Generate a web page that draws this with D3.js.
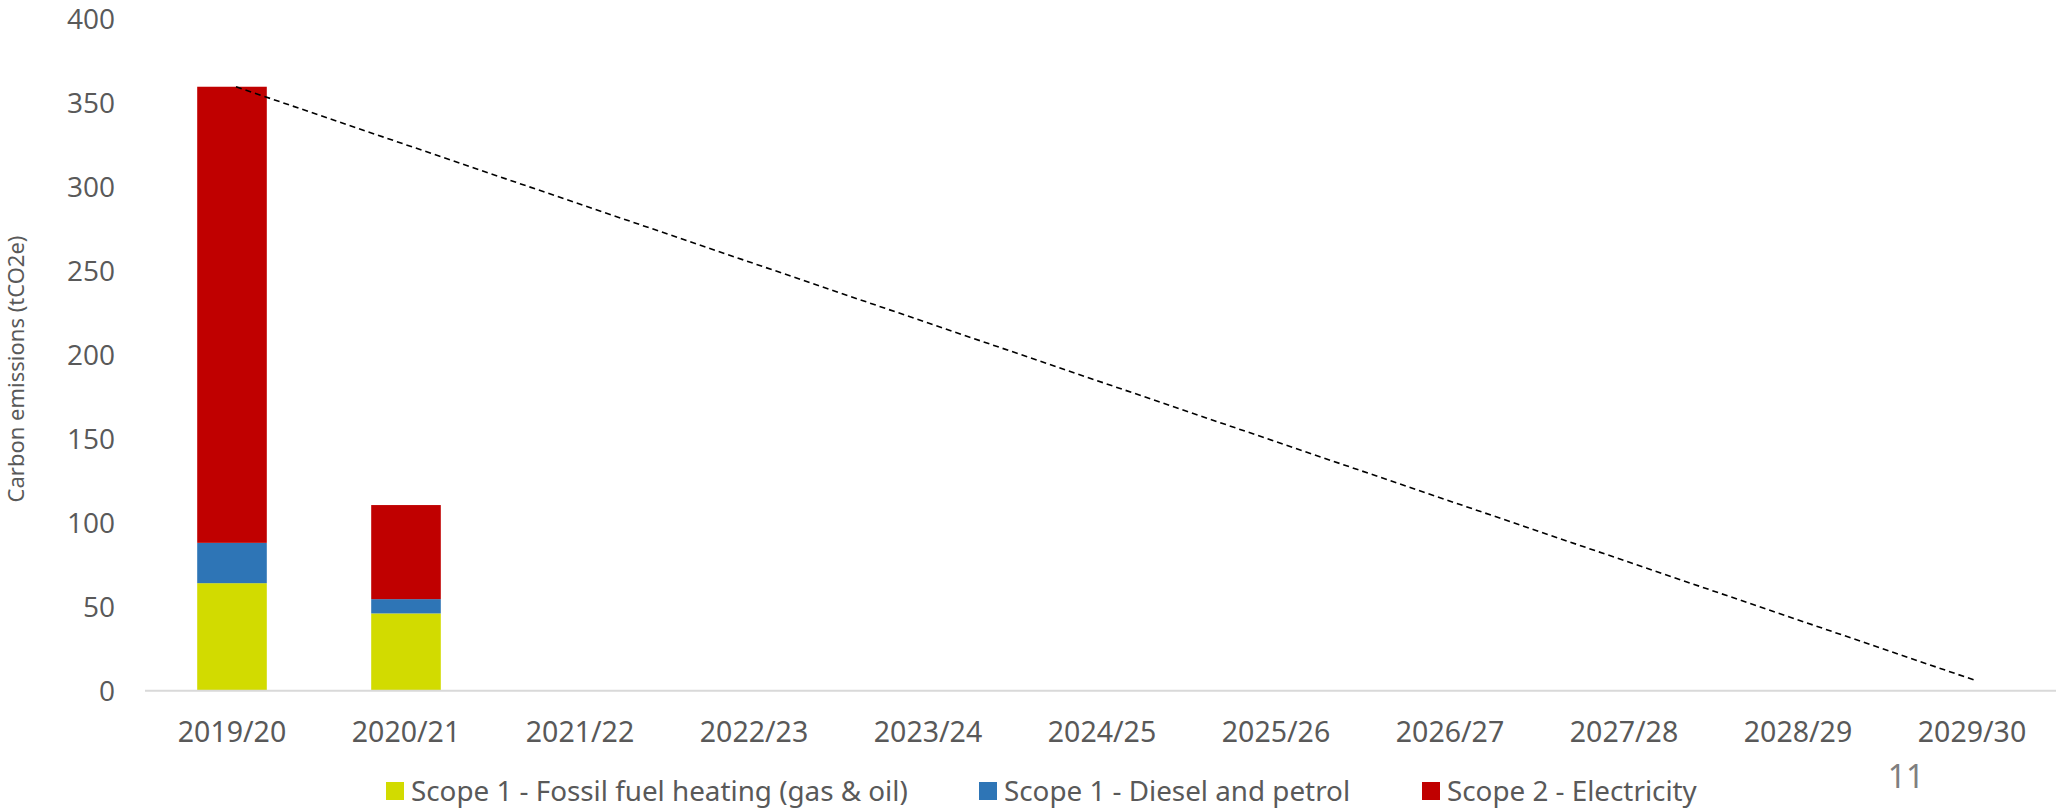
<!DOCTYPE html>
<html>
<head>
<meta charset="utf-8">
<script src="https://cdn.jsdelivr.net/npm/d3@7"></script>
<style>
  html, body { margin: 0; padding: 0; background: #ffffff; }
  svg { display: block; }
</style>
</head>
<body>
<svg id="chart" width="2056" height="808"></svg>
<script>
// ---- Data ----
const categories = ["2019/20","2020/21","2021/22","2022/23","2023/24","2024/25","2025/26","2026/27","2027/28","2028/29","2029/30"];
const seriesNames = ["Scope 1 - Fossil fuel heating (gas & oil)", "Scope 1 - Diesel and petrol", "Scope 2 - Electricity"];
const fossilHeating = [64, 46, null, null, null, null, null, null, null, null, null];
const dieselPetrol  = [24, 8.5, null, null, null, null, null, null, null, null, null];
const electricity   = [271.5, 56, null, null, null, null, null, null, null, null, null];
const targetCategories = ["2019/20", "2029/30"];
const targetValues = [359.5, 6];
const yTicks = [0, 50, 100, 150, 200, 250, 300, 350, 400];
const pageNumber = "11";

const colors = ["#D2DB00", "#2E75B6", "#C00000"];

// ---- Layout ----
const svg = d3.select("#chart");
const x = d3.scaleBand().domain(categories).range([145, 2059]).paddingInner(0.6).paddingOuter(0.3);
const y = d3.scaleLinear().domain([0, 400]).range([690.7, 18.7]);

// stacked data
const table = categories.map((c, i) => ({
  cat: c,
  s0: fossilHeating[i] || 0,
  s1: dieselPetrol[i] || 0,
  s2: electricity[i] || 0
}));
const stack = d3.stack().keys(["s0", "s1", "s2"]);
const layers = stack(table);

svg.append("g").selectAll("g")
  .data(layers)
  .join("g")
  .attr("fill", (d, i) => colors[i])
  .selectAll("rect")
  .data(d => d.filter(p => p[1] - p[0] > 0))
  .join("rect")
  .attr("x", d => x(d.data.cat))
  .attr("width", x.bandwidth())
  .attr("y", d => y(d[1]))
  .attr("height", d => y(d[0]) - y(d[1]));

// x axis line
const xAxis = d3.axisBottom(x).tickSize(0).tickPadding(0);
const gx = svg.append("g").attr("transform", `translate(0,${y(0)})`).call(xAxis);
gx.select(".domain").attr("stroke", "#D9D9D9").attr("stroke-width", 2).attr("d", `M145,0H2056`);
gx.selectAll(".tick text")
  .attr("y", 41.5)
  .attr("dy", "0.35em")
  .attr("fill", "#595959")
  .style("font-family", "'Noto Sans', sans-serif")
  .style("font-size", "28.5px");

// y axis labels
const yAxis = d3.axisLeft(y).tickValues(yTicks).tickSize(0).tickPadding(0);
const gy = svg.append("g").attr("transform", "translate(115,0)").call(yAxis);
gy.select(".domain").remove();
gy.selectAll(".tick text")
  .attr("fill", "#595959")
  .attr("dy", "0.35em")
  .style("font-family", "'Open Sans', sans-serif")
  .style("font-size", "28px");

// y axis title
svg.append("text")
  .attr("transform", `translate(16,369) rotate(-90)`)
  .attr("text-anchor", "middle")
  .attr("dy", "0.35em")
  .attr("fill", "#595959")
  .style("font-family", "'Noto Sans', sans-serif")
  .style("font-size", "22px")
  .text("Carbon emissions (tCO2e)");

// target dashed line
const line = d3.line()
  .x((d, i) => x(targetCategories[i]) + x.bandwidth() / 2 + 4)
  .y(d => y(d));
svg.append("path")
  .datum(targetValues)
  .attr("d", line)
  .attr("fill", "none")
  .attr("stroke", "#000")
  .attr("stroke-width", 1.6)
  .attr("stroke-dasharray", "6,4");

// legend
const legendX = [386, 979, 1422];
const legend = svg.append("g");
seriesNames.forEach((name, i) => {
  legend.append("rect")
    .attr("x", legendX[i]).attr("y", 782)
    .attr("width", 18).attr("height", 18)
    .attr("fill", colors[i]);
  legend.append("text")
    .attr("x", legendX[i] + 25).attr("y", 791)
    .attr("dy", "0.35em")
    .attr("fill", "#595959")
    .style("font-family", "'Noto Sans', sans-serif")
    .style("font-size", "27.8px")
    .text(name);
});

// page number
svg.append("text")
  .attr("x", 1906).attr("y", 777)
  .attr("dy", "0.35em")
  .attr("text-anchor", "middle")
  .attr("fill", "#7F7F7F")
  .style("font-family", "'Noto Sans', sans-serif")
  .style("font-size", "32px")
  .text(pageNumber);
</script>
</body>
</html>
